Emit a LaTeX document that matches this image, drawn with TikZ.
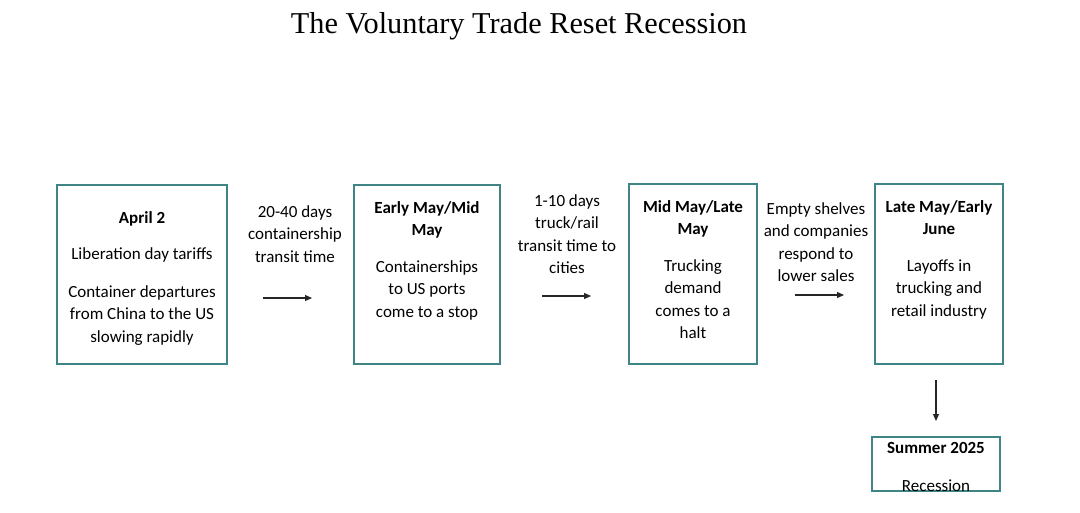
\documentclass[tikz,border=0pt]{standalone}
\usepackage{fontspec}
\setmainfont{Carlito}
\newfontfamily\titlefont{Liberation Serif}
\usetikzlibrary{arrows.meta,positioning}
\definecolor{tealline}{HTML}{3F8585}
\definecolor{arrowgray}{HTML}{262626}

\tikzset{
  stagebox/.style={draw=tealline,line width=1.5pt,inner sep=0pt},
  stagetxt/.style={anchor=north,align=center,inner sep=0pt,
                   font=\fontsize{17}{22.5}\selectfont},
  lagtxt/.style={anchor=north,align=center,inner sep=0pt,
                 font=\fontsize{17}{22.5}\selectfont},
  flow/.style={-{Triangle[length=7pt,width=6pt]},draw=arrowgray,line width=1.2pt}
}

\begin{document}
\begin{tikzpicture}[x=1pt,y=-1pt]
  \useasboundingbox (0,0) rectangle (1080,512);

  % title
  \node[font=\titlefont\fontsize{30.3}{33}\selectfont] (title) at (519,26)
    {The Voluntary Trade Reset Recession};

  % stage boxes
  \node[stagebox,minimum width=170pt,minimum height=179pt] (april) at (142,274.5) {};
  \node[stagebox,minimum width=146pt,minimum height=179pt] (earlymay) at (427,274.5) {};
  \node[stagebox,minimum width=128pt,minimum height=180pt] (midmay) at (693,274) {};
  \node[stagebox,minimum width=128pt,minimum height=180pt] (latemay) at (939,274) {};
  \node[stagebox,minimum width=128pt,minimum height=54pt] (summer) at (936,464) {};

  % box texts
  \node[stagetxt] (aprilt) at (142,211)
    {\textbf{April 2}\\[14pt] Liberation day tariffs\\[15pt]
     Container departures\\ from China to the US\\ slowing rapidly};
  \node[stagetxt] (earlymayt) at (427,201)
    {\textbf{Early May/Mid}\\ \textbf{May}\\[14pt]
     Containerships\\ to US ports\\ come to a stop};
  \node[stagetxt] (midmayt) at (693,200)
    {\textbf{Mid May/Late}\\ \textbf{May}\\[14pt]
     Trucking\\ demand\\ comes to a\\ halt};
  \node[stagetxt] (latemayt) at (939,200)
    {\textbf{Late May/Early}\\ \textbf{June}\\[14pt]
     Layoffs in\\ trucking and\\ retail industry};
  \node[stagetxt] (summert) at (936,442)
    {\textbf{Summer 2025}\\[16pt] Recession};

  % lag labels
  \node[lagtxt] (lag1) at (295,205)
    {20-40 days\\ containership\\ transit time};
  \node[lagtxt] (lag2) at (567,194)
    {1-10 days\\ truck/rail\\ transit time to\\ cities};
  \node[lagtxt] (lag3) at (816,202)
    {Empty shelves\\ and companies\\ respond to\\ lower sales};

  % arrows
  \coordinate (a1s) at (263,298); \coordinate (a1e) at (312,298);
  \coordinate (a2s) at (542,296); \coordinate (a2e) at (591,296);
  \coordinate (a3s) at (795,295); \coordinate (a3e) at (844,295);
  \coordinate (a4s) at (936,380); \coordinate (a4e) at (936,421);
  \draw[flow] (a1s) -- (a1e);
  \draw[flow] (a2s) -- (a2e);
  \draw[flow] (a3s) -- (a3e);
  \draw[flow] (a4s) -- (a4e);
\end{tikzpicture}
\end{document}
